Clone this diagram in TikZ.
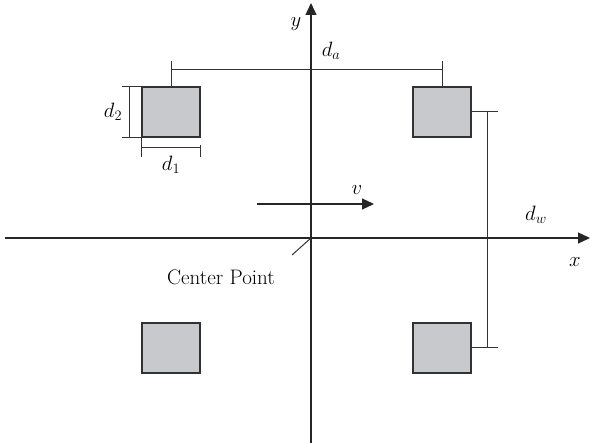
\documentclass[tikz,border=0pt]{standalone}
\usepackage{tikz}
\usetikzlibrary{arrows.meta,positioning,calc}
\definecolor{boxfill}{RGB}{200,201,205}
\definecolor{boxline}{RGB}{50,50,50}
\tikzset{
  axisln/.style={-{Triangle[length=12pt,width=11pt]}, line width=1.2pt, black!85},
  dimln/.style={line width=1pt, black!80},
  wheel/.style={draw=boxline, fill=boxfill, line width=1.4pt,
    minimum width=58pt, minimum height=50pt, inner sep=0pt},
  lbl/.style={font=\fontsize{21}{24}\selectfont, inner sep=1pt},
}

\begin{document}
\begin{tikzpicture}[x=1pt, y=-1pt]
    \useasboundingbox (0,0) rectangle (590,443);
    % Axes
    \coordinate (o) at (311,238);
    \coordinate (xl) at (5,238);
    \coordinate (xr) at (590,238);
    \coordinate (yb) at (311,445);
    \coordinate (yt) at (311,3);
    \draw[axisln] (xl) -- (xr);
    \draw[axisln] (yb) -- (yt);
    \node[lbl] (xlab) at (575,262) {$x$};
    \node[lbl] (ylab) at (296,24) {$y$};
    % Wheels
    \node[wheel] (tl) at (171,112) {};
    \node[wheel] (tr) at (442,112) {};
    \node[wheel] (bl) at (171,348) {};
    \node[wheel] (br) at (442,348) {};
    % Track width d_a
    \draw[dimln] (tl.north) -- ($(tl.north)+(0,-25)$);
    \draw[dimln] (tr.north) -- ($(tr.north)+(0,-25)$);
    \draw[dimln] ($(tl.north)+(0,-17)$) -- ($(tr.north)+(0,-17)$);
    \node[lbl] (da) at (331,51) {$d_a$};
    % Wheel base d_w
    \draw[dimln] (tr.east) -- ++(26,0);
    \draw[dimln] (br.east) -- ++(26,0);
    \draw[dimln] ($(tr.east)+(16,0)$) -- ($(br.east)+(16,0)$);
    \node[lbl] (dw) at (536,215) {$d_w$};
    % Wheel size d_1, d_2
    \draw[dimln] (tl.north west) -- ++(-19,0);
    \draw[dimln] (tl.south west) -- ++(-19,0);
    \draw[dimln] ($(tl.north west)+(-12,0)$) -- ($(tl.south west)+(-12,0)$);
    \node[lbl] (dtwo) at (113,112) {$d_2$};
    \draw[dimln] (tl.south west) -- ++(0,19);
    \draw[dimln] ($(tl.south east)+(0,7)$) -- ++(0,12);
    \draw[dimln] ($(tl.south west)+(0,10)$) -- ($(tl.south east)+(0,10)$);
    \node[lbl] (done) at (171,165) {$d_1$};
    % Velocity
    \coordinate (vs) at (257,204);
    \coordinate (ve) at (374,204);
    \draw[axisln] (vs) -- (ve);
    \node[lbl] (vlab) at (357,190) {$v$};
    % Center point
    \coordinate (cp) at (292,255);
    \draw[dimln] (o) -- (cp);
    \node[lbl] (cplab) at (221,277) {Center Point};
\end{tikzpicture}
\end{document}
